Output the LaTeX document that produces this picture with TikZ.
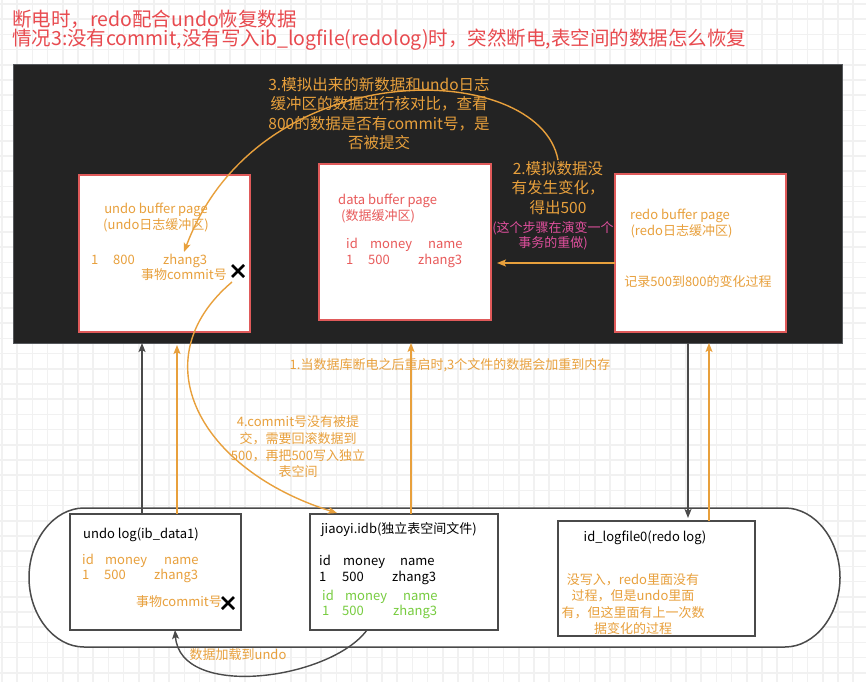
\documentclass[tikz,border=0pt]{standalone}
\usepackage{fontspec}
\setmainfont{Noto Sans CJK SC}
\usetikzlibrary{arrows.meta}

\definecolor{boardbg}{HTML}{232323}
\definecolor{boardedge}{HTML}{55585C}
\definecolor{boxred}{HTML}{E05A5A}
\definecolor{txtorange}{HTML}{E8A03C}
\definecolor{txtred}{HTML}{E85A5A}
\definecolor{txtpink}{HTML}{DE4F9C}
\definecolor{txtgreen}{HTML}{77CC3F}
\definecolor{titlered}{HTML}{E84A4F}
\definecolor{linegray}{HTML}{4A4A4A}
\definecolor{gridgray}{HTML}{F1F1F1}

% one table row: two fixed column widths, then three cells
\newcommand{\colrow}[5]{\makebox[#1][l]{#3}\makebox[#2][l]{#4}#5}

\begin{document}
\begin{tikzpicture}[x=1pt,y=-1pt,
  every node/.style={inner sep=0pt},
  bufbox/.style={fill=white, draw=boxred, line width=1.2pt},
  filebox/.style={fill=white, draw=linegray, line width=1.5pt},
  oline/.style={draw=txtorange, line width=1.4pt, -{Stealth[length=9pt,width=7pt,inset=2pt]}},
  gline/.style={draw=linegray, line width=1.4pt, -{Stealth[length=9pt,width=7pt,inset=2pt]}},
  txt/.style={font=\fontsize{13}{16}\selectfont},
  bigtxt/.style={font=\fontsize{15.5}{19.5}\selectfont},
  xmark/.style={line width=2.6pt}]
  \useasboundingbox (0,0) rectangle (866,682);
  \fill[white] (0,0) rectangle (866,682);

  % background grid
  \foreach \gx in {2,17.2,...,866} \draw[gridgray, line width=1.5pt] (\gx,0) -- (\gx,682);
  \foreach \gy in {4,19.2,...,682} \draw[gridgray, line width=1.5pt] (0,\gy) -- (866,\gy);

  % title
  \node[anchor=west, text=titlered, font=\fontsize{19.5}{21}\selectfont] (title1) at (12,19) {断电时，redo配合undo恢复数据};
  \node[anchor=west, text=titlered, font=\fontsize{19.5}{21}\selectfont] (title2) at (12,40) {情况3:没有commit,没有写入ib\_logfile(redolog)时，突然断电,表空间的数据怎么恢复};

  % memory board
  \filldraw[fill=boardbg, draw=boardedge, line width=1pt] (13,65) rectangle (842,343);
  \draw[bufbox] (79,175) rectangle (250,332);
  \draw[bufbox] (319,164) rectangle (491,320);
  \draw[bufbox] (615,174) rectangle (786,332);

  % undo buffer page
  \node[txt, text=txtorange, align=center] (undobufT) at (156,218) {undo buffer page\\(undo日志缓冲区)};
  \node[txt, text=txtorange, anchor=west] (undobufR) at (91,261) {\colrow{22pt}{50pt}{1}{800}{zhang3}};
  \node[txt, text=txtorange] (undobufC) at (184,275) {事物commit号};
  \draw[xmark] (232,265) -- (244,277) (232,277) -- (244,265);

  % data buffer page
  \node[txt, text=txtred, align=left, anchor=west] (databufT) at (338,209) {data buffer page\\\hspace{3pt}(数据缓冲区)};
  \node[txt, text=txtred, anchor=west] (databufH) at (346,245) {\colrow{24pt}{58pt}{id}{money}{name}};
  \node[txt, text=txtred, anchor=west] (databufR) at (346,261) {\colrow{22pt}{50pt}{1}{500}{zhang3}};

  % redo buffer page
  \node[txt, text=txtorange, align=center] (redobufT) at (680,224) {redo buffer page\\\hspace{3pt}(redo日志缓冲区)};
  \node[txt, text=txtorange] (redobufR) at (698,282) {记录500到800的变化过程};

  % step notes
  \node[bigtxt, text=txtorange, align=center] (step2) at (558,188) {2.模拟数据没\\有发生变化，\\得出500};
  \node[txt, text=txtpink, align=center, font=\fontsize{13}{15}\selectfont] (step2note) at (553,236) {(这个步骤在演变一个\\事务的重做)};
  \node[bigtxt, text=txtorange, align=center] (step3) at (379,113.5) {3.模拟出来的新数据和undo日志\\缓冲区的数据进行核对比，查看\\800的数据是否有commit号，是\\否被提交};
  \node[txt, text=txtorange] (step1) at (450,365) {1.当数据库断电之后重启时,3个文件的数据会加重到内存};
  \node[txt, text=txtorange, align=center, font=\fontsize{13}{16.7}\selectfont] (step4) at (298,447) {4.commit号没有被提\\交，需要回滚数据到\\500，再把500写入独立\\表空间};

  % disk files
  \draw[filebox] (84,508) -- (785,508) .. controls (815,508) and (840,540) .. (840,577.5)
    .. controls (840,615) and (815,647) .. (785,647) -- (84,647)
    .. controls (54,647) and (29,615) .. (29,577.5) .. controls (29,540) and (54,508) .. (84,508) -- cycle;
  \draw[filebox] (70,514) rectangle (241,630);
  \draw[filebox] (310,514) rectangle (498,630);
  \draw[filebox] (558,521) rectangle (755,636);

  \node[txt, text=black, anchor=west] (undologT) at (83,535) {undo log(ib\_data1)};
  \node[txt, text=txtorange, anchor=west] (undologH) at (82,561) {\colrow{23pt}{59pt}{id}{money}{name}};
  \node[txt, text=txtorange, anchor=west] (undologR) at (82,576) {\colrow{22pt}{50pt}{1}{500}{zhang3}};
  \node[txt, text=txtorange] (undologC) at (179,602) {事物commit号};
  \draw[xmark] (222,597) -- (234,609) (222,609) -- (234,597);

  \node[txt, text=black] (jiaoyiT) at (399,530) {jiaoyi.idb(独立表空间文件)};
  \node[txt, text=black, anchor=west] (jiaoyiH) at (319,562) {\colrow{24pt}{57pt}{id}{money}{name}};
  \node[txt, text=black, anchor=west] (jiaoyiR) at (319,578) {\colrow{23pt}{50pt}{1}{500}{zhang3}};
  \node[txt, text=txtgreen, anchor=west] (jiaoyiGH) at (322,597) {\colrow{23pt}{58pt}{id}{money}{name}};
  \node[txt, text=txtgreen, anchor=west] (jiaoyiGR) at (322,612) {\colrow{20pt}{51pt}{1}{500}{zhang3}};

  \node[txt, text=black] (redologT) at (645,538) {id\_logfile0(redo log)};
  \node[txt, text=txtorange, align=center, font=\fontsize{13}{16.3}\selectfont] (redologN) at (633,604) {没写入，redo里面没有\\过程，但是undo里面\\有，但这里面有上一次数\\据变化的过程};

  \node[txt, text=txtorange] (loadlbl) at (238,655) {数据加载到undo};

  % connector ends
  \coordinate (redoL) at (615,263);
  \coordinate (dataR) at (497,263);
  \coordinate (s2top) at (558,160);
  \coordinate (undoTip) at (184,252);
  \coordinate (undoX) at (232,282);
  \coordinate (jiaoyiTip) at (337,513);
  \coordinate (jiaoyiB) at (367,630);
  \coordinate (undologB) at (175,630);
  \coordinate (ulogA) at (142,514);
  \coordinate (boardA) at (142,343);
  \coordinate (ulogB) at (177,514);
  \coordinate (boardB) at (177,345);
  \coordinate (jiaoyiTop) at (411,514);
  \coordinate (boardC) at (411,343);
  \coordinate (boardD) at (688,343);
  \coordinate (fileD) at (688,518);
  \coordinate (redologTop) at (709,521);
  \coordinate (boardE) at (709,343);

  \draw[oline] (redoL) -- (dataR);
  \draw[oline] (s2top) .. controls (540,60) and (260,50) .. (undoTip);
  \draw[oline] (undoX) .. controls (140,360) and (200,470) .. (jiaoyiTip);
  \draw[gline] (jiaoyiB) .. controls (330,680) and (180,700) .. (undologB);

  \draw[gline] (ulogA) -- (boardA);
  \draw[oline] (ulogB) -- (boardB);
  \draw[oline] (jiaoyiTop) -- (boardC);
  \draw[gline] (boardD) -- (fileD);
  \draw[oline] (redologTop) -- (boardE);
\end{tikzpicture}
\end{document}
